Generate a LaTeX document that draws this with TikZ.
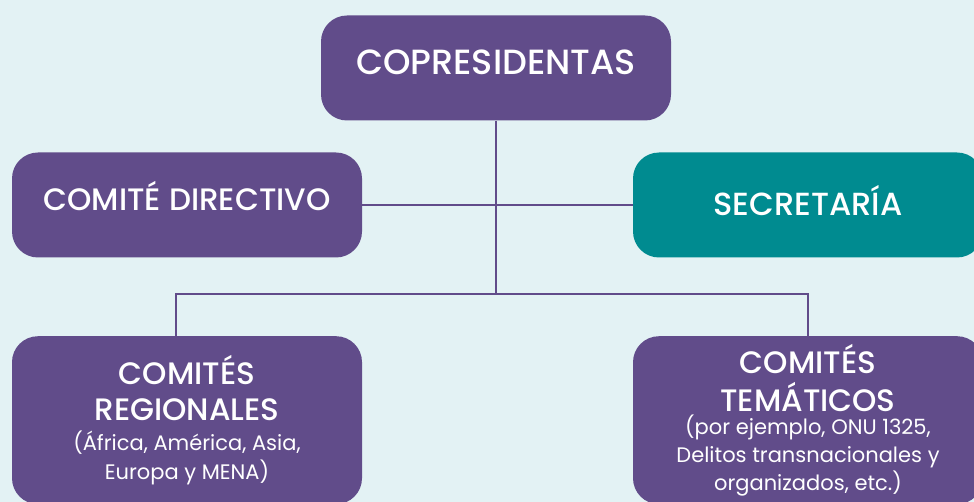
\documentclass[tikz,border=0pt]{standalone}
\usepackage{fontspec}
\setmainfont{Poppins}[UprightFont=* Medium]
\newfontfamily\duenn{Poppins}
\definecolor{bgcol}{HTML}{E3F2F4}
\definecolor{lila}{HTML}{614C8A}
\definecolor{petrol}{HTML}{008B90}
\newcommand{\klein}{\duenn\fontsize{21}{26}\selectfont}
\begin{document}
\begin{tikzpicture}[x=1pt, y=-1pt]
  \fill [bgcol] (0, 0) rectangle (974, 502);  % Hintergrund
  \clip (0, 0) rectangle (974, 502);
  \tikzstyle{box}=[rectangle, rounded corners=26pt, fill=lila, text=white, align=center, minimum width=350pt, minimum height=105pt, inner sep=0pt]
  \tikzstyle{big}=[font=\fontsize{31}{36}\selectfont]
  \tikzstyle{link}=[draw=lila, line width=2pt]

  \node[box, font=\fontsize{35}{36}\selectfont, text height=24pt, text depth=10pt] (pres) at (496, 68) {COPRESIDENTAS};
  \node[box, big, text height=22pt, text depth=10pt] (dir) at (187, 205) {COMITÉ DIRECTIVO};
  \node[box, big, font=\fontsize{32}{36}\selectfont, text height=22pt, text depth=0pt, fill=petrol] (sec) at (808, 205) {SECRETARÍA};

  \node[box, big, anchor=north, minimum height=168pt] (reg) at (187, 336)
    {COMITÉS\\REGIONALES\\[-6pt]\klein (África, América, Asia,\\[-7pt]\klein Europa y MENA)};
  \node[box, big, anchor=north, minimum height=168pt] (tem) at (808, 336)
    {COMITÉS\\[2pt]TEMÁTICOS\\[-13pt]\klein (por ejemplo, ONU 1325,\\[-8pt]\klein Delitos transnacionales y\\[-8pt]\klein organizados, etc.)};

  \coordinate (hub) at (496, 294);

  \path[link] (pres) -- (hub);
  \path[link] (dir) -- (sec);
  \path[link] ([xshift=-11pt]reg.north) |- (hub);
  \path[link] (tem.north) |- (hub);
\end{tikzpicture}
\end{document}
